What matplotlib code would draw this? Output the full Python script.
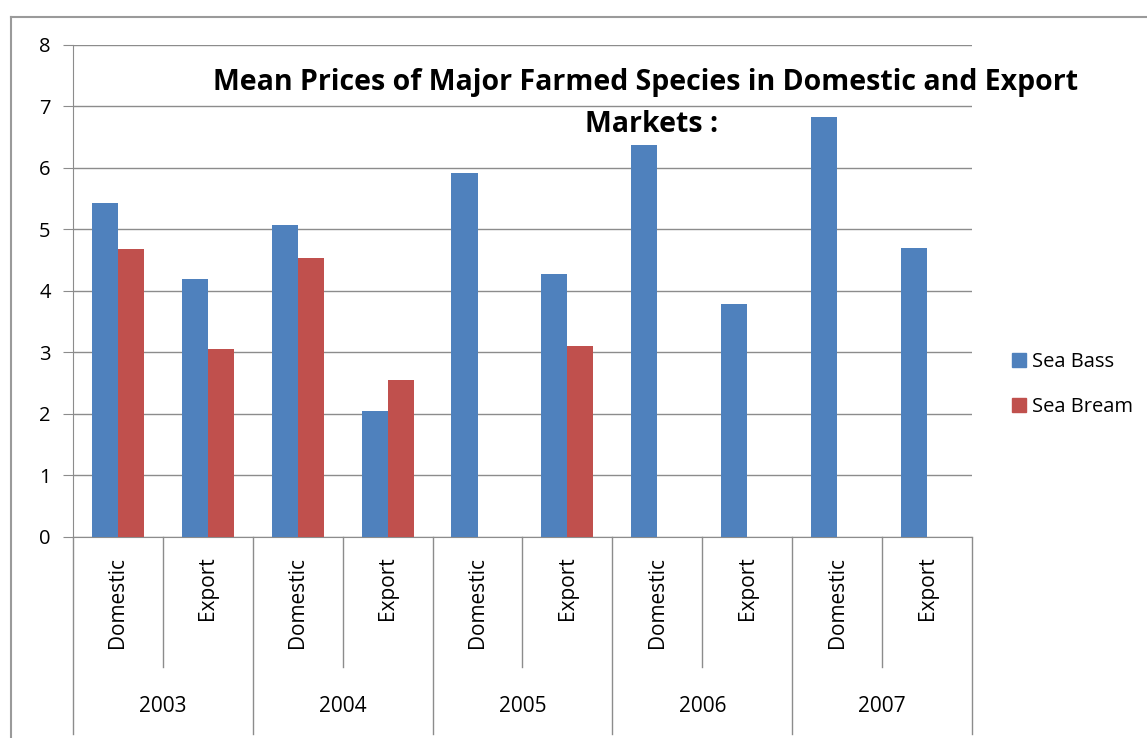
import matplotlib
matplotlib.use('Agg')
import matplotlib.pyplot as plt
import numpy as np
from matplotlib.lines import Line2D
from matplotlib.patches import Patch

# Data
years = ['2003', '2004', '2005', '2006', '2007']
markets = ['Domestic', 'Export'] * 5
sea_bass = [5.43, 4.20, 5.07, 2.05, 5.92, 4.28, 6.37, 3.79, 6.83, 4.70]
sea_bream = [4.68, 3.06, 4.54, 2.55, np.nan, 3.10, np.nan, np.nan, np.nan, np.nan]

blue = '#4F81BD'
red = '#C0504D'
grid_c = '#8C8C8C'

plt.rcParams['font.family'] = ['Open Sans', 'DejaVu Sans']

fig = plt.figure(figsize=(11.47, 7.38), dpi=100)
ax = fig.add_axes([0.0636, 0.2724, 0.7838, 0.6667])

x = np.arange(len(markets))
w = 0.29
ax.bar(x - w / 2, sea_bass, w, color=blue, label='Sea Bass', zorder=3)
ax.bar(x + w / 2, sea_bream, w, color=red, label='Sea Bream', zorder=3)

ax.set_xlim(-0.5, 9.5)
ax.set_ylim(0, 8)
ax.set_yticks(range(0, 9))
ax.yaxis.grid(True, color=grid_c, linewidth=1)
ax.set_axisbelow(True)
for s in ['top', 'right']:
    ax.spines[s].set_visible(False)
ax.spines['left'].set_color(grid_c)
ax.spines['bottom'].set_color(grid_c)
ax.tick_params(axis='y', length=7, color=grid_c, labelsize=14.5, pad=9)
ax.set_xticks([])

# category labels and separators
trans = ax.get_xaxis_transform()
for i, m in enumerate(markets):
    ax.text(i, -0.04, m, rotation=90, ha='center', va='top', fontsize=15,
            transform=trans)
for b in np.arange(-0.5, 10, 1.0):
    low = -0.40 if (b + 0.5) % 2 == 0 else -0.264
    ax.add_line(Line2D([b, b], [0, low], transform=trans, color=grid_c,
                       linewidth=1, clip_on=False))
for j, yr in enumerate(years):
    ax.text(2 * j + 0.5, -0.345, yr, ha='center', va='center', fontsize=15,
            transform=trans)

# title overlaid on plot
fig.text(0.563, 0.888, 'Mean Prices of Major Farmed Species in Domestic and Export',
         ha='center', va='center', fontsize=20.5, fontweight='bold')
fig.text(0.568, 0.831, 'Markets :', ha='center', va='center', fontsize=20.5,
         fontweight='bold')

# legend
handles = [Patch(color=blue, label='Sea Bass'), Patch(color=red, label='Sea Bream')]
fig.legend(handles=handles, loc='center left', bbox_to_anchor=(0.882, 0.479),
           frameon=False, fontsize=14.5, handlelength=0.7, handleheight=0.7,
           handletextpad=0.3, labelspacing=1.25, borderpad=0, borderaxespad=0)

# outer chart frame
fig.add_artist(Line2D([11 / 1147, 11 / 1147], [0, 1 - 17 / 738],
                      transform=fig.transFigure, color='#9A9A9A', linewidth=1.5))
fig.add_artist(Line2D([11 / 1147, 1], [1 - 17 / 738, 1 - 17 / 738],
                      transform=fig.transFigure, color='#9A9A9A', linewidth=1.5))

fig.savefig('out.png', dpi=100)
